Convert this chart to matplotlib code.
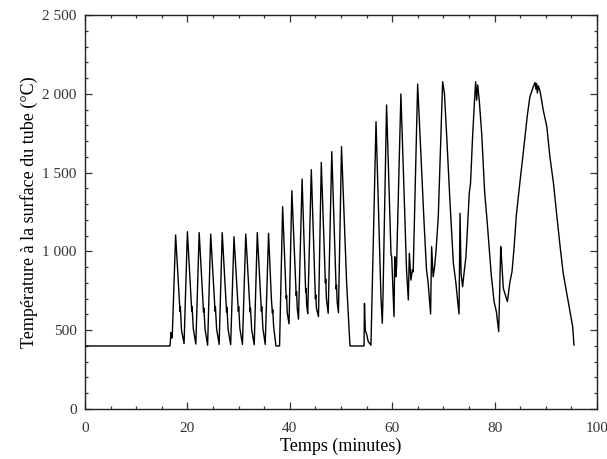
import matplotlib
matplotlib.use("Agg")
import matplotlib.pyplot as plt
from matplotlib.ticker import MultipleLocator, FuncFormatter

plt.rcParams['font.family'] = ['Liberation Serif', 'DejaVu Serif']

# Time (minutes) and surface temperature (°C)
time_min = [
    0, 16.6, 16.8, 16.95, 17.05,
    17.7, 18.55, 18.62, 18.85, 19.35,
    20.0, 20.85, 20.92, 21.15, 21.65,
    22.3, 23.15, 23.22, 23.45, 23.95,
    24.55, 25.4, 25.47, 25.7, 26.2,
    26.8, 27.65, 27.72, 27.95, 28.45,
    29.1, 29.95, 30.02, 30.25, 30.75,
    31.4, 32.25, 32.32, 32.55, 33.05,
    33.65, 34.45, 34.52, 34.75, 35.2,
    35.85, 36.4, 36.6, 36.67, 36.85, 37.3, 38.0,
    38.6, 39.3, 39.38, 39.5, 39.85,
    40.4, 41.25, 41.33, 41.45, 41.7,
    42.4, 43.1, 43.18, 43.3, 43.5,
    44.2, 45.0, 45.08, 45.2, 45.6,
    46.15, 46.95, 47.03, 47.15, 47.5,
    48.2, 49.05, 49.13, 49.25, 49.5,
    50.1, 51.1, 51.75, 54.5,
    54.58, 54.75, 55.05, 55.3, 55.85,
    56.84, 57.8, 58.07, 58.2,
    58.9, 59.77, 59.9, 60.35, 60.5, 60.7, 60.85,
    61.7, 62.8, 63.15, 63.35, 63.65, 63.93, 64.1,
    64.97, 65.75, 66.2, 66.7, 67.0, 67.5, 67.7, 68.0, 68.25, 68.55, 69.0, 69.3,
    69.85, 70.2, 70.65, 71.3, 71.95, 72.45, 72.7, 73.05, 73.25, 73.45, 73.75,
    74.1, 74.4, 74.65, 75.05, 75.3, 75.7, 76.05,
    76.3, 76.5, 76.7, 77.0, 77.5, 78.05, 78.6, 79.35, 79.9, 80.35, 80.8,
    81.2, 81.35, 81.7, 82.1, 82.5, 82.75, 83.0, 83.4, 83.8, 84.25, 84.6,
    85.1, 85.55, 85.9, 86.4, 86.9, 87.55, 87.9, 88.05, 88.2, 88.35, 88.55, 88.9,
    89.5, 90.2, 90.8, 91.5, 92.1, 92.8, 93.4, 94.1, 94.7, 95.25, 95.5,
]
temp_c = [
    400, 400, 485, 450, 470,
    1104, 620, 650, 500, 415,
    1125, 620, 650, 510, 412,
    1119, 615, 640, 505, 405,
    1110, 620, 650, 510, 410,
    1119, 615, 645, 505, 408,
    1093, 620, 650, 510, 410,
    1110, 615, 640, 505, 408,
    1119, 620, 650, 510, 410,
    1115, 700, 610, 630, 520, 400, 400,
    1284, 700, 720, 610, 540,
    1385, 720, 745, 640, 570,
    1459, 740, 765, 660, 605,
    1519, 700, 725, 640, 586,
    1565, 800, 825, 700, 607,
    1633, 760, 785, 680, 611,
    1665, 800, 400, 400,
    670, 500, 470, 430, 405,
    1823, 712, 544, 712,
    1929, 977, 970, 586, 966, 839, 903,
    1999, 882, 692, 988, 818, 882, 870,
    2062, 1516, 1199, 882, 808, 603, 1030, 839, 893, 998, 1220, 1516,
    2077, 2003, 1728, 1305, 924, 797, 712, 603, 1242, 861, 776,
    882, 966, 1115, 1369, 1432, 1728, 1940,
    2077, 1960, 2056, 1960, 1738, 1379, 1167, 850, 681, 617, 491,
    1030, 960, 766, 723, 681, 744, 808, 871, 1021, 1231, 1337,
    1485, 1612, 1718, 1865, 1982, 2045, 2071, 2030, 2065, 2005, 2050, 2013,
    1897, 1791, 1601, 1432, 1242, 1030, 861, 734, 628, 522, 406,
]

x_label = "Temps (minutes)"
y_label = "Température à la surface du tube (°C)"

fig = plt.figure(figsize=(6.07, 4.59), dpi=100)
ax = fig.add_axes([85/607, 1-409/459, (597-85)/607, (409-15)/459])

ax.plot(time_min, temp_c, color='black', linewidth=1.0)

ax.set_xlim(0, 100)
ax.set_ylim(0, 2500)
ax.xaxis.set_major_locator(MultipleLocator(20))
ax.xaxis.set_minor_locator(MultipleLocator(5))
ax.yaxis.set_major_locator(MultipleLocator(500))
ax.yaxis.set_minor_locator(MultipleLocator(100))
ax.yaxis.set_major_formatter(FuncFormatter(lambda v, p: f"{v:,.0f}".replace(",", " ")))

ax.tick_params(which='both', direction='in', top=True, right=True, labelsize=11, color='#333333')
ax.tick_params(which='major', length=5, width=0.9)
ax.tick_params(which='minor', length=2.5, width=0.9)
ax.xaxis.set_tick_params(which='major', pad=9)
ax.yaxis.set_tick_params(which='major', pad=6)
for s in ax.spines.values():
    s.set_linewidth(1.0)
    s.set_color('#222222')
for lab in ax.get_xticklabels() + ax.get_yticklabels():
    lab.set_color('#333333')

ax.set_xlabel(x_label, fontsize=13)
ax.xaxis.set_label_coords(0.5, -0.072)
ax.set_ylabel(y_label, fontsize=13, labelpad=3)

fig.savefig("out.png", dpi=100)
